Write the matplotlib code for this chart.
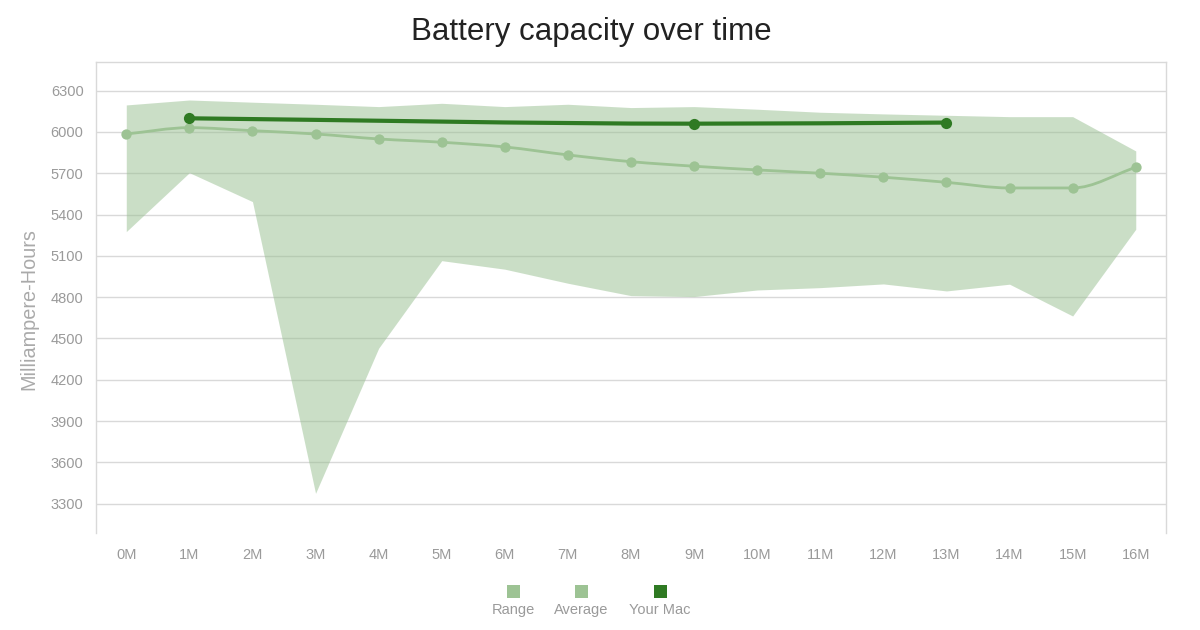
import numpy as np
import matplotlib
matplotlib.use("Agg")
import matplotlib.pyplot as plt
from matplotlib.path import Path
from matplotlib.patches import PathPatch, Rectangle

plt.rcParams["font.family"] = ["Liberation Sans", "DejaVu Sans"]

months = list(range(17))
month_labels = [f"{m}M" for m in months]

range_high = [6196, 6232, 6216, 6201, 6184, 6208, 6184, 6201, 6177, 6184,
              6165, 6143, 6131, 6121, 6111, 6111, 5862]
range_low = [5276, 5704, 5494, 3375, 4429, 5065, 5003, 4901, 4811, 4804,
             4852, 4869, 4896, 4845, 4894, 4663, 5293]
average = [5985, 6031, 6009, 5985, 5949, 5925, 5891, 5833, 5784, 5751,
           5724, 5700, 5671, 5634, 5593, 5593, 5743]

mac_months = [1, 9, 13]
mac_values = [6099, 6060, 6068]

y_ticks = [3300, 3600, 3900, 4200, 4500, 4800, 5100, 5400, 5700, 6000, 6300]

range_color = (0.59, 0.75, 0.56)
avg_color = "#9dc394"
mac_color = "#2f7a23"
grid_color = "#d9d9d9"
tick_color = "#9a9a9a"


def monotone_path(xs, ys):
    # monotone cubic curve, like chart.js "monotone" mode
    xs = np.asarray(xs, float)
    ys = np.asarray(ys, float)
    n = len(xs)
    d = np.diff(ys) / np.diff(xs)
    m = np.zeros(n)
    m[0] = d[0]
    m[-1] = d[-1]
    for k in range(1, n - 1):
        if d[k - 1] * d[k] <= 0:
            m[k] = 0
        else:
            m[k] = (d[k - 1] + d[k]) / 2
    for k in range(n - 1):
        if d[k] == 0:
            m[k] = m[k + 1] = 0
            continue
        a = m[k] / d[k]
        b = m[k + 1] / d[k]
        s = a * a + b * b
        if s > 9:
            t = 3 / np.sqrt(s)
            m[k] = t * a * d[k]
            m[k + 1] = t * b * d[k]
    verts = [(xs[0], ys[0])]
    codes = [Path.MOVETO]
    for k in range(n - 1):
        h = xs[k + 1] - xs[k]
        verts += [(xs[k] + h / 3, ys[k] + m[k] * h / 3),
                  (xs[k + 1] - h / 3, ys[k + 1] - m[k + 1] * h / 3),
                  (xs[k + 1], ys[k + 1])]
        codes += [Path.CURVE4] * 3
    return Path(verts, codes)


fig = plt.figure(figsize=(12, 6.3), dpi=100)
ax = fig.add_axes([0.08, 0.154, 0.8917, 0.7476])

ax.fill_between(months, range_low, range_high, color=range_color,
                alpha=0.5, linewidth=0, zorder=2)

ax.add_patch(PathPatch(monotone_path(months, average), fill=False,
                       edgecolor=avg_color, linewidth=2, zorder=3))
ax.scatter(months, average, s=55, color=avg_color, zorder=4, linewidths=0)

ax.add_patch(PathPatch(monotone_path(mac_months, mac_values), fill=False,
                       edgecolor=mac_color, linewidth=3, zorder=5))
ax.scatter(mac_months, mac_values, s=65, color=mac_color, zorder=6, linewidths=0)

ax.set_xlim(-0.48, 16.48)
ax.set_ylim(3087, 6508)
ax.set_xticks(months)
ax.set_xticklabels(month_labels)
ax.set_yticks(y_ticks)
ax.yaxis.grid(True, color=grid_color, linewidth=1, zorder=1)
ax.set_axisbelow(True)
ax.tick_params(axis="both", length=0, colors=tick_color, labelsize=10.5)
ax.tick_params(axis="x", pad=11)
ax.tick_params(axis="y", pad=9)

for side in ["left", "right", "top"]:
    ax.spines[side].set_color(grid_color)
    ax.spines[side].set_linewidth(1)
ax.spines["bottom"].set_visible(False)

ax.set_ylabel("Milliampere-Hours", fontsize=14.3, color="#aaaaaa")
ax.yaxis.set_label_coords(-0.0535, 0.475)

fig.text(0.493, 0.949, "Battery capacity over time", ha="center", va="center",
         fontsize=22.5, color="#222222")

# legend: squares with labels underneath
legend_items = [("Range", "#9dc394", 0.4275), ("Average", "#9dc394", 0.4842),
                ("Your Mac", mac_color, 0.55)]
for label, color, xc in legend_items:
    w = 13 / 1200
    h = 13 / 630
    fig.add_artist(Rectangle((xc - w / 2, 0.051), w, h, transform=fig.transFigure,
                             facecolor=color, edgecolor="none"))
    fig.text(xc, 0.032, label, ha="center", va="center", fontsize=10.5,
             color=tick_color)

fig.savefig("out.png", dpi=100, facecolor="white")
